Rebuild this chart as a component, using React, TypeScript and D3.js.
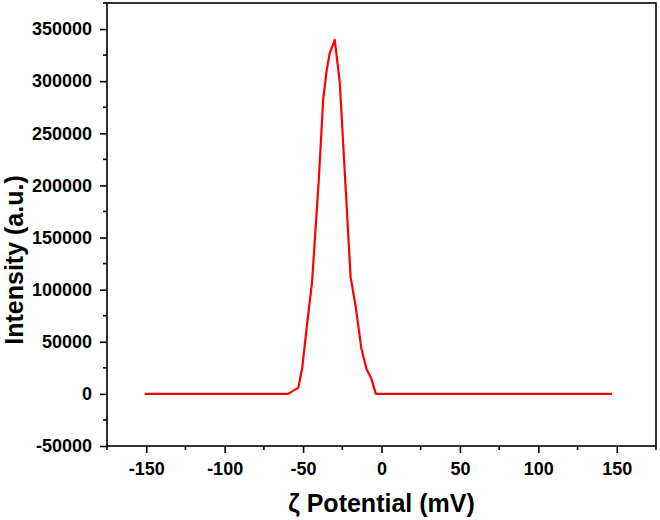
import { useRef, useEffect } from 'react';
import * as d3 from 'd3';

const WIDTH = 660;
const HEIGHT = 520;
const MARGIN = { top: 3, right: 4, bottom: 74, left: 107 };

// zeta potential distribution
const potential = [-151, -59.5, -53, -50.5, -47.9, -44.3, -40, -37.2, -35, -33, -29.8, -26.6, -19.7, -16.4, -12.8, -9.6, -6.4, -3.6, 147];
const intensity = [0, 0, 6000, 25600, 60800, 107000, 205000, 282000, 310000, 327000, 339700, 298500, 112000, 83300, 43300, 24000, 14400, 0, 0];

const xTicks = [-150, -100, -50, 0, 50, 100, 150];
const xMinor = [-175, -125, -75, -25, 25, 75, 125, 175];
const yTicks = [-50000, 0, 50000, 100000, 150000, 200000, 250000, 300000, 350000];
const yMinor = [-25000, 25000, 75000, 125000, 175000, 225000, 275000, 325000, 375000];

const FONT = '"Liberation Sans", Arial, sans-serif';

export default function App() {
  const svgRef = useRef<SVGSVGElement | null>(null);

  useEffect(() => {
    const svg = d3.select(svgRef.current);
    svg.selectAll('*').remove();

    const innerW = WIDTH - MARGIN.left - MARGIN.right;
    const innerH = HEIGHT - MARGIN.top - MARGIN.bottom;

    const x = d3.scaleLinear().domain([-175, 175]).range([0, innerW]);
    const y = d3.scaleLinear().domain([-50000, 375000]).range([innerH, 0]);

    const g = svg.append('g').attr('transform', `translate(${MARGIN.left},${MARGIN.top})`);

    // data line
    const pts = potential.map((p, i) => [p, intensity[i]] as [number, number]);
    const line = d3.line<[number, number]>()
      .x(d => x(d[0]))
      .y(d => y(d[1]));
    g.append('path')
      .datum(pts)
      .attr('d', line)
      .attr('fill', 'none')
      .attr('stroke', '#ff0000')
      .attr('stroke-width', 2.2)
      .attr('stroke-linejoin', 'round');

    // frame
    g.append('rect')
      .attr('x', 0).attr('y', 0)
      .attr('width', innerW).attr('height', innerH)
      .attr('fill', 'none')
      .attr('stroke', '#000')
      .attr('stroke-width', 1.6);

    const fmt = (d: d3.NumberValue) => String(d); // plain hyphen minus, as in the original

    // x axis
    const xAxis = g.append('g')
      .attr('transform', `translate(0,${innerH})`)
      .call(d3.axisBottom(x).tickValues(xTicks).tickSize(7).tickPadding(9).tickSizeOuter(0).tickFormat(fmt));
    xAxis.select('.domain').remove();
    xAxis.selectAll('.tick line').attr('stroke-width', 1.6);
    xAxis.selectAll('.tick text')
      .attr('font-family', FONT).attr('font-weight', 'bold').attr('font-size', 18).attr('fill', '#000');
    xAxis.selectAll('.minor')
      .data(xMinor)
      .join('line')
      .attr('class', 'minor')
      .attr('x1', d => x(d)).attr('x2', d => x(d))
      .attr('y1', 0).attr('y2', 4)
      .attr('stroke', '#000').attr('stroke-width', 1.6);

    // y axis
    const yAxis = g.append('g')
      .call(d3.axisLeft(y).tickValues(yTicks).tickSize(7).tickPadding(8).tickSizeOuter(0).tickFormat(fmt));
    yAxis.select('.domain').remove();
    yAxis.selectAll('.tick line').attr('stroke-width', 1.6);
    yAxis.selectAll('.tick text')
      .attr('font-family', FONT).attr('font-weight', 'bold').attr('font-size', 18).attr('fill', '#000');
    yAxis.selectAll('.minor')
      .data(yMinor)
      .join('line')
      .attr('class', 'minor')
      .attr('x1', 0).attr('x2', -4)
      .attr('y1', d => y(d)).attr('y2', d => y(d))
      .attr('stroke', '#000').attr('stroke-width', 1.6);

    // axis titles
    g.append('text')
      .attr('x', innerW / 2).attr('y', innerH + 66)
      .attr('text-anchor', 'middle')
      .attr('font-family', FONT).attr('font-weight', 'bold').attr('font-size', 25)
      .text('ζ Potential (mV)');

    g.append('text')
      .attr('transform', `translate(${-84},${257}) rotate(-90)`)
      .attr('text-anchor', 'middle')
      .attr('font-family', FONT).attr('font-weight', 'bold').attr('font-size', 25)
      .text('Intensity (a.u.)');
  }, []);

  return (
    <svg
      ref={svgRef}
      width={WIDTH}
      height={HEIGHT}
      style={{ position: 'absolute', left: 0, top: 0, background: '#fff' }}
    />
  );
}
